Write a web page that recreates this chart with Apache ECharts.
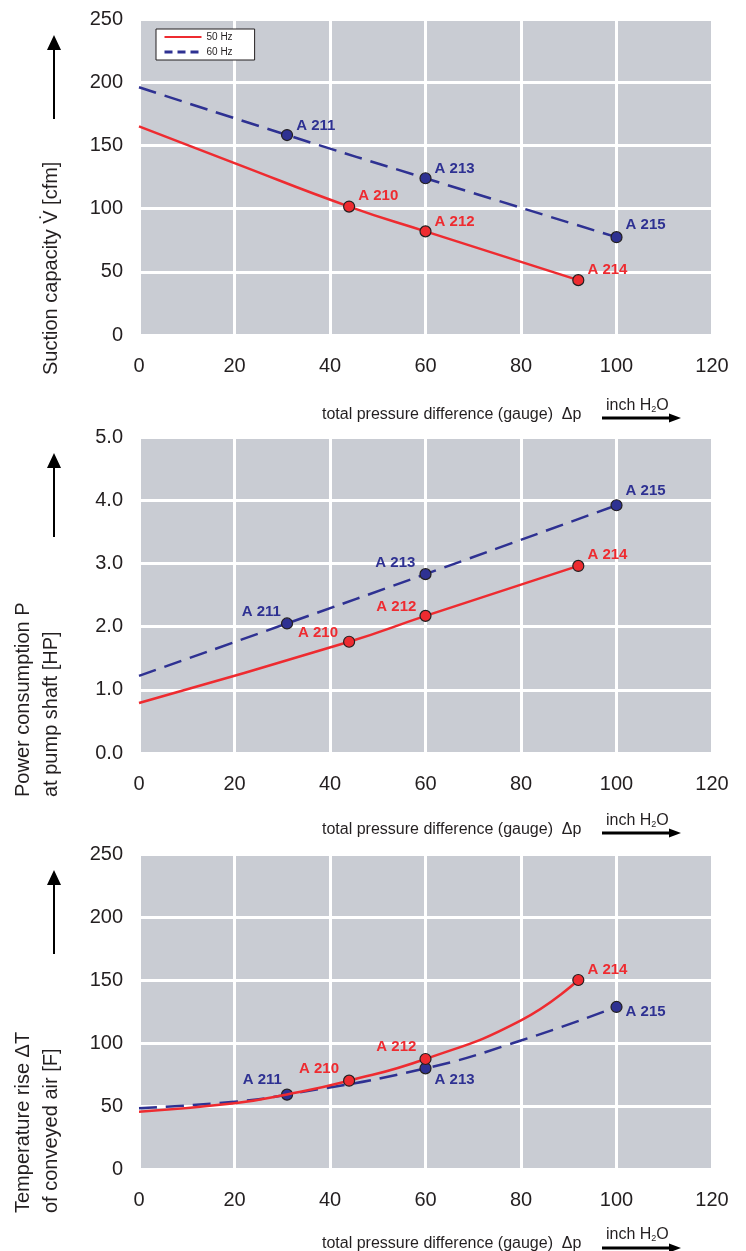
<!DOCTYPE html>
<html><head><meta charset="utf-8">
<script src="https://cdn.jsdelivr.net/npm/echarts@6/dist/echarts.min.js"></script>
<style>html,body{margin:0;padding:0;background:#fff}#c{width:746px;height:1251px}</style>
</head><body><div id="c"></div>
<script>
const F = "'Liberation Sans', Arial, Helvetica, sans-serif";
const TXT = '#231f20';
const RED = '#ee2b30';
const BLUE = '#2e3192';

// x axis: total pressure difference (gauge) [inch H2O]
const xMin = 0, xMax = 120, xStep = 20;

// Chart 1: Suction capacity [cfm]
const suction50X = [0, 20, 44, 60, 92];
const suction50Y = [165, 136, 101.6, 82, 43.4];
const suction50Names = [null, null, 'A 210', 'A 212', 'A 214'];
const suction60X = [0, 31, 60, 100];
const suction60Y = [196, 158.2, 124, 77.4];
const suction60Names = [null, 'A 211', 'A 213', 'A 215'];

// Chart 2: Power consumption [HP]
const power50X = [0, 44, 60, 92];
const power50Y = [0.79, 1.76, 2.17, 2.96];
const power50Names = [null, 'A 210', 'A 212', 'A 214'];
const power60X = [0, 31, 60, 100];
const power60Y = [1.22, 2.05, 2.83, 3.92];
const power60Names = [null, 'A 211', 'A 213', 'A 215'];

// Chart 3: Temperature rise [F]
const temp50X = [0, 20, 31, 44, 60, 80, 92];
const temp50Y = [45.5, 52.1, 59.2, 70.1, 87.3, 118, 150];
const temp50Names = [null, null, null, 'A 210', 'A 212', null, 'A 214'];
const temp60X = [0, 20, 31, 60, 80, 100];
const temp60Y = [48.2, 53.4, 59, 79.9, 102, 128.6];
const temp60Names = [null, null, 'A 211', 'A 213', null, 'A 215'];

// y axis ranges
const yRanges = [
  {min: 0, max: 250, interval: 50, dec: 0},
  {min: 0, max: 5, interval: 1, dec: 1},
  {min: 0, max: 250, interval: 50, dec: 0}
];

// label placement (layout, not data)
const labelLayout = [
  {'A 210': ['right', [0, -11]], 'A 212': ['right', [0, -9]], 'A 214': ['right', [0, -10]],
   'A 211': ['right', [0, -9]], 'A 213': ['right', [0, -9]], 'A 215': ['right', [0, -12]]},
  {'A 210': ['left', [-2, -9]], 'A 212': ['left', [0, -9]], 'A 214': ['right', [0, -11]],
   'A 211': ['left', [3, -12]], 'A 213': ['left', [-1, -11]], 'A 215': ['right', [0, -14]]},
  {'A 210': ['left', [-1, -12]], 'A 212': ['left', [0, -12]], 'A 214': ['right', [0, -10]],
   'A 211': ['left', [4, -15]], 'A 213': ['right', [0, 12]], 'A 215': ['right', [0, 5]]}
];

const grids = [
  {left: 139, top: 19, width: 573, height: 316},
  {left: 139, top: 437, width: 573, height: 316},
  {left: 139, top: 854, width: 573, height: 315}
];
// decoration positions below each plot: [x-title middle, unit middle, arrow]
const xTitleY = [[415, 406, 418], [830, 821, 833], [1244, 1235, 1248]];

function mk(gi, name, X, Y, N, color, dashed) {
  return {
    type: 'line', name: name, xAxisIndex: gi, yAxisIndex: gi,
    smooth: 0.5,
    symbol: 'none', symbolSize: 11,
    lineStyle: {color: color, width: 2.5, type: dashed ? [18, 9] : 'solid', cap: 'butt'},
    itemStyle: {color: color, borderColor: TXT, borderWidth: 1.2},
    emphasis: {disabled: true},
    z: dashed ? 2 : 3,
    data: X.map(function (x, i) {
      const item = {value: [x, Y[i]]};
      if (N[i]) {
        const L = labelLayout[gi][N[i]];
        item.symbol = 'circle';
        item.label = {show: true, formatter: N[i], position: L[0], offset: L[1], distance: 3,
          color: color, fontSize: 15, fontWeight: 'bold', fontFamily: F};
      }
      return item;
    })
  };
}

const series = [
  mk(0, '50 Hz', suction50X, suction50Y, suction50Names, RED, false),
  mk(0, '60 Hz', suction60X, suction60Y, suction60Names, BLUE, true),
  mk(1, '50 Hz', power50X, power50Y, power50Names, RED, false),
  mk(1, '60 Hz', power60X, power60Y, power60Names, BLUE, true),
  mk(2, '50 Hz', temp50X, temp50Y, temp50Names, RED, false),
  mk(2, '60 Hz', temp60X, temp60Y, temp60Names, BLUE, true)
];

const xAxis = grids.map(function (g, i) {
  return {type: 'value', gridIndex: i, min: xMin, max: xMax, interval: xStep,
    axisLine: {show: false}, axisTick: {show: false},
    splitLine: {show: true, lineStyle: {color: '#ffffff', width: 3}},
    axisLabel: {margin: 21, fontSize: 20, color: TXT, fontFamily: F}};
});
const yAxis = yRanges.map(function (r, i) {
  return {type: 'value', gridIndex: i, min: r.min, max: r.max, interval: r.interval,
    axisLine: {show: false}, axisTick: {show: false},
    splitLine: {show: true, lineStyle: {color: '#ffffff', width: 3}},
    axisLabel: {margin: 16, fontSize: 20, color: TXT, fontFamily: F,
      formatter: function (v) { return v.toFixed(r.dec); }}};
});

// decorations: axis titles and arrows
const graphic = [];
const yTitles = [
  [['Suction capacity V\u0307 [cfm]', 51]],
  [['Power consumption P', 23], ['at pump shaft [HP]', 51]],
  [['Temperature rise \u0394T', 23], ['of conveyed air [F]', 51]]
];
grids.forEach(function (g, i) {
  const bottom = g.top + g.height;
  const start = i === 0 ? bottom + 40 : bottom + 44;
  yTitles[i].forEach(function (t) {
    graphic.push({type: 'text', x: t[1], y: start, rotation: Math.PI / 2, silent: true,
      style: {text: t[0], fill: TXT, font: '20px ' + F, align: 'left', verticalAlign: 'middle'}});
  });
  // up arrow
  const aTop = g.top + 16, aBase = aTop + 15, aEnd = aTop + 84;
  graphic.push({type: 'line', silent: true, shape: {x1: 54, y1: aEnd, x2: 54, y2: aBase},
    style: {stroke: '#000', lineWidth: 2}});
  graphic.push({type: 'polygon', silent: true, shape: {points: [[54, aTop], [47, aBase], [61, aBase]]},
    style: {fill: '#000'}});
  // x titles
  const ty = xTitleY[i];
  graphic.push({type: 'text', x: 322, y: ty[0], silent: true,
    style: {text: 'total pressure difference (gauge)  \u0394p', fill: TXT, font: '16px ' + F,
      align: 'left', verticalAlign: 'middle'}});
  graphic.push({type: 'text', x: 606, y: ty[1], silent: true,
    style: {text: 'inch H{s|2}O', fill: TXT, font: '16px ' + F, align: 'left', verticalAlign: 'middle',
      rich: {s: {fontSize: 9, fontFamily: F, fill: TXT, padding: [8, 0, 0, 0]}}}});
  const ay = ty[2];
  graphic.push({type: 'line', silent: true, shape: {x1: 602, y1: ay, x2: 671, y2: ay},
    style: {stroke: '#000', lineWidth: 3}});
  graphic.push({type: 'polygon', silent: true, shape: {points: [[681, ay], [669, ay - 4.5], [669, ay + 4.5]]},
    style: {fill: '#000'}});
});

const chart = echarts.init(document.getElementById('c'), null, {renderer: 'canvas'});
chart.setOption({
  animation: false,
  backgroundColor: '#ffffff',
  grid: grids.map(function (g) {
    return Object.assign({show: true, backgroundColor: '#c9ccd3', borderWidth: 0, containLabel: false}, g);
  }),
  legend: {
    left: 156, top: 29, orient: 'vertical', backgroundColor: '#ffffff',
    borderColor: TXT, borderWidth: 1, borderRadius: 0, padding: [3, 22, 3, 7],
    itemWidth: 37, itemHeight: 10, itemGap: 5, selectedMode: false,
    textStyle: {fontSize: 10, color: TXT, fontFamily: F},
    data: [
      {name: '50 Hz', lineStyle: {width: 2}, itemStyle: {opacity: 0, borderWidth: 0}},
      {name: '60 Hz', lineStyle: {type: [8, 5], width: 3}, itemStyle: {opacity: 0, borderWidth: 0}}
    ]
  },
  xAxis: xAxis,
  yAxis: yAxis,
  series: series,
  graphic: graphic
});
</script>
</body></html>
